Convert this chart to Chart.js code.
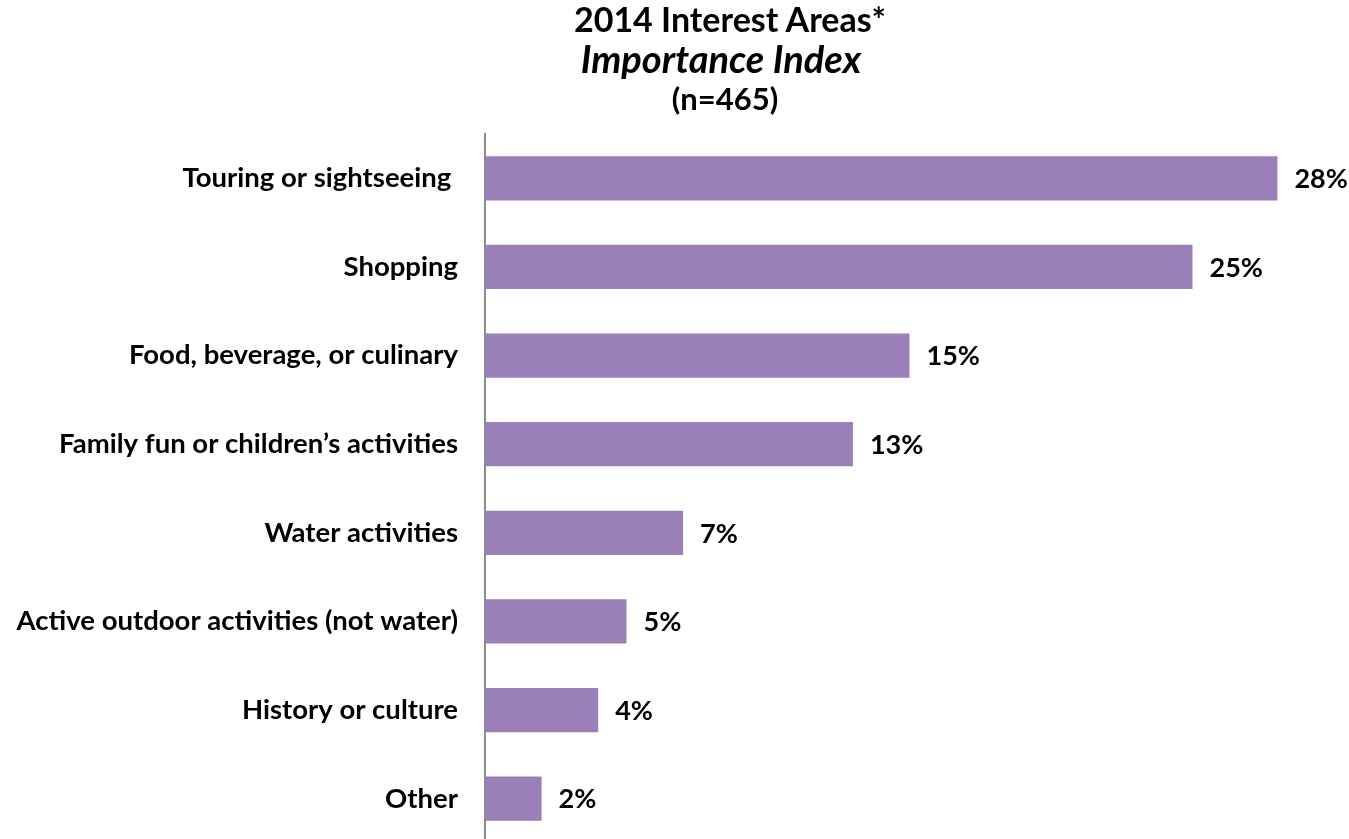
<!DOCTYPE html>
<html>
<head>
<meta charset="utf-8">
<script src="https://cdn.jsdelivr.net/npm/chart.js@4.4.1/dist/chart.umd.min.js"></script>
<style>
  html, body { margin: 0; padding: 0; background: #fff; overflow: hidden; }
  #wrap { position: relative; width: 1349px; height: 839px; overflow: hidden; }
  #interestChart { position: absolute; left: 0; top: 0; }
  .head { position: absolute; width: 400px; text-align: center; white-space: nowrap;
          font-family: Lato, "Open Sans", sans-serif; font-weight: bold; color: #000; line-height: 1; }
  #t1 { left: 530px; top: 2px; font-size: 34px; }
  #t2 { left: 521px; top: 39px; font-size: 38px; font-style: italic; }
  #t3 { left: 525px; top: 83px; font-size: 31px; }
</style>
</head>
<body>
<div id="wrap">
  <canvas id="interestChart" width="1349" height="845"></canvas>
  <div class="head" id="t1">2014 Interest Areas*</div>
  <div class="head" id="t2">Importance Index</div>
  <div class="head" id="t3">(n=465)</div>
</div>
<script>
// Áreas de interés y su índice de importancia (%)
const categorias = [
    "Touring or sightseeing ",
    "Shopping",
    "Food, beverage, or culinary",
    "Family fun or children\u2019s activities",
    "Water activities",
    "Active outdoor activities (not water)",
    "History or culture",
    "Other"
];
const valores = [28, 25, 15, 13, 7, 5, 4, 2];
const ejeMax = 30;

const familia = "Lato, 'Open Sans', sans-serif";
const fuenteEje = { family: familia, size: 27.5, weight: "bold" };
const fuenteValor = { family: familia, size: 27, weight: "bold" };

// Etiquetas de porcentaje al final de cada barra
const etiquetasValor = {
    id: 'etiquetasValor',
    afterDatasetsDraw(chart) {
        const ctx = chart.ctx;
        const meta = chart.getDatasetMeta(0);
        ctx.save();
        ctx.font = `${fuenteValor.weight} ${fuenteValor.size}px ${fuenteValor.family}`;
        ctx.fillStyle = '#000';
        ctx.textAlign = 'left';
        ctx.textBaseline = 'middle';
        meta.data.forEach((bar, i) => {
            ctx.fillText(valores[i] + '%', bar.x + 17, bar.y + 1);
        });
        ctx.restore();
    }
};

const ctx = document.getElementById('interestChart').getContext('2d');
new Chart(ctx, {
    type: 'bar',
    data: {
        labels: categorias,
        datasets: [{
            data: valores,
            backgroundColor: '#9b7fb9',
            borderWidth: 0,
            barPercentage: 0.5,
            categoryPercentage: 1.0
        }]
    },
    options: {
        indexAxis: 'y',
        responsive: false,
        animation: false,
        layout: { padding: { top: 134, right: 15, bottom: 2, left: 0 } },
        plugins: {
            legend: { display: false },
            tooltip: { enabled: false }
        },
        scales: {
            x: {
                display: false,
                min: 0,
                max: ejeMax
            },
            y: {
                grid: { display: false, drawTicks: false },
                border: { display: true, color: '#8c8c8c', width: 2 },
                ticks: {
                    color: '#000',
                    font: fuenteEje,
                    padding: 27
                },
                afterFit(scale) {
                    // ancho fijo del eje y sin relleno extra arriba/abajo
                    scale.width = 485;
                    scale.paddingTop = 0;
                    scale.paddingBottom = 0;
                }
            }
        }
    },
    plugins: [etiquetasValor]
});
</script>
</body>
</html>
